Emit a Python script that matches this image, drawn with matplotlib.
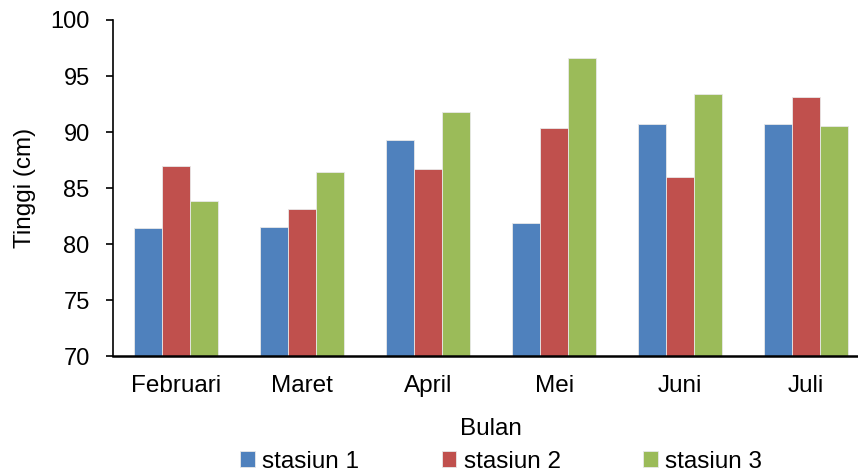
import numpy as np
import matplotlib.pyplot as plt

plt.rcParams['font.family'] = ['Liberation Sans', 'DejaVu Sans']

months = ["Februari", "Maret", "April", "Mei", "Juni", "Juli"]
stasiun_1 = [81.4, 81.5, 89.3, 81.9, 90.7, 90.7]
stasiun_2 = [87.0, 83.1, 86.7, 90.4, 86.0, 93.1]
stasiun_3 = [83.8, 86.4, 91.8, 96.6, 93.4, 90.5]

series = [("stasiun 1", stasiun_1, "#4F81BD"),
          ("stasiun 2", stasiun_2, "#C0504D"),
          ("stasiun 3", stasiun_3, "#9BBB59")]

fig = plt.figure(figsize=(8.58, 4.75), dpi=100)
ax = fig.add_axes([0.132, 0.2505, 0.881, 0.7074])

x = np.arange(len(months))
w = 0.222
for i, (name, vals, col) in enumerate(series):
    ax.bar(x + (i - 1) * w, vals, w, color=col, label=name,
           edgecolor="#e8e8e8", linewidth=0.6)

ax.set_xlim(-0.5, 5.5)
ax.set_ylim(70, 100)
ax.set_yticks(range(70, 101, 5))
ax.set_xticks(x)
ax.set_xticklabels(months)

ax.tick_params(axis='y', length=5, width=1.2, pad=12, labelsize=17)
ax.tick_params(axis='x', length=0, pad=14, labelsize=17.5)

for s in ["top", "right"]:
    ax.spines[s].set_visible(False)
ax.spines["left"].set_linewidth(1.2)
ax.spines["bottom"].set_linewidth(1.8)

ax.set_ylabel("Tinggi (cm)", fontsize=17.5, labelpad=10)
ax.set_xlabel("Bulan", fontsize=17.5, labelpad=15)

fig.legend(loc="center", bbox_to_anchor=(0.584, 0.028), ncol=3, frameon=False,
           fontsize=17.5, handlelength=0.6, handleheight=0.6,
           handletextpad=0.3, columnspacing=3.4)

plt.savefig("out.png", dpi=100)
